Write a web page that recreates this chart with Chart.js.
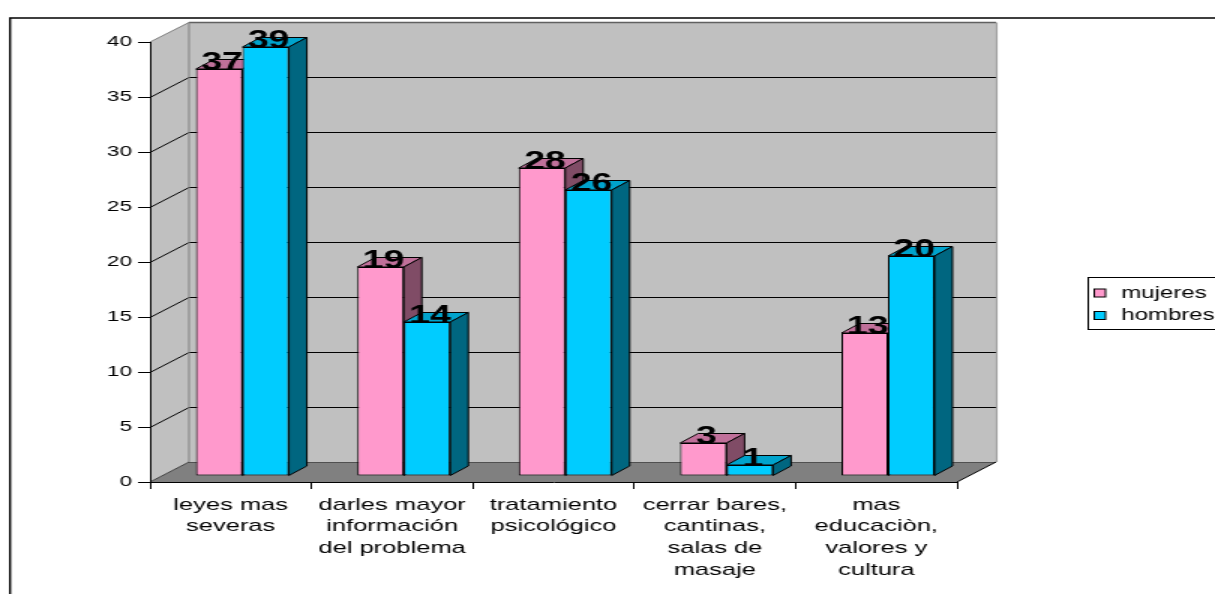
<!DOCTYPE html>
<html>
<head>
<meta charset="utf-8">
<script src="https://cdn.jsdelivr.net/npm/chart.js@4"></script>
<style>
  html, body { margin: 0; padding: 0; background: #fff; overflow: hidden; }
  canvas { display: block; }
</style>
</head>
<body>
<!-- el lienzo se estira 1.5x a lo ancho, como en la imagen original -->
<canvas id="grafico" width="810" height="594" style="width:1215px;height:594px"></canvas>
<script>
// Datos
const categorias = [
  ["leyes mas", "severas"],
  ["darles mayor", "información", "del problema"],
  ["tratamiento", "psicológico"],
  ["cerrar bares,", "cantinas,", "salas de", "masaje"],
  ["mas", "educaciòn,", "valores y", "cultura"]
];
const mujeres = [37, 19, 28, 3, 13];
const hombres = [39, 14, 26, 1, 20];
const ejeMin = 0;
const ejeMax = 40;
const ejePaso = 5;

const FUENTE = "'Liberation Sans', Arial, sans-serif";

// colores de las caras: frente, arriba, lado
const caras = [
  { frente: "#ff99cc", arriba: "#c0709a", lado: "#804c66" },
  { frente: "#00ccff", arriba: "#00a3cc", lado: "#006680" }
];

// desplazamientos de la perspectiva (px del lienzo)
const PARED = { dx: 26, dy: -20 };
const PLANO = { dx: 7.8, dy: -6 };
const FONDO = { dx: 12, dy: -9.5 };

function poligono(ctx, pts, relleno, trazo, ancho) {
  ctx.beginPath();
  ctx.moveTo(pts[0][0], pts[0][1]);
  for (let i = 1; i < pts.length; i++) ctx.lineTo(pts[i][0], pts[i][1]);
  ctx.closePath();
  if (relleno) {
    ctx.fillStyle = relleno;
    ctx.fill();
  }
  if (trazo) {
    ctx.strokeStyle = trazo;
    ctx.lineWidth = ancho || 1;
    ctx.stroke();
  }
}

function linea(ctx, x1, y1, x2, y2, color, ancho) {
  ctx.beginPath();
  ctx.moveTo(x1, y1);
  ctx.lineTo(x2, y2);
  ctx.strokeStyle = color;
  ctx.lineWidth = ancho || 1;
  ctx.stroke();
}

/**
 * Paredes, piso y marco del gráfico 3D
 */
const paredes = {
  id: "paredes",
  beforeDraw(chart) {
    const ctx = chart.ctx;
    const xs = chart.scales.x;
    const ys = chart.scales.y;
    const x0 = xs.left;
    const x1 = xs.right;
    const y0 = ys.getPixelForValue(ejeMin);
    const yt = ys.getPixelForValue(ejeMax);
    const dx = PARED.dx;
    const dy = PARED.dy;

    ctx.save();

    // marco exterior
    ctx.strokeStyle = "#000";
    ctx.lineWidth = 1.4;
    ctx.beginPath();
    ctx.moveTo(6.7, chart.height + 2);
    ctx.lineTo(6.7, 18);
    ctx.lineTo(chart.width + 2, 18);
    ctx.stroke();

    // pared lateral y pared del fondo
    poligono(ctx, [[x0, y0], [x0, yt], [x0 + dx, yt + dy], [x0 + dx, y0 + dy]], "#c0c0c0");
    poligono(ctx, [[x0 + dx, yt + dy], [x1 + dx, yt + dy], [x1 + dx, y0 + dy], [x0 + dx, y0 + dy]], "#c0c0c0");
    // piso
    poligono(ctx, [[x0, y0], [x1, y0], [x1 + dx, y0 + dy], [x0 + dx, y0 + dy]], "#808080");

    // líneas de división
    for (let v = ejeMin + ejePaso; v < ejeMax; v += ejePaso) {
      const y = Math.round(ys.getPixelForValue(v)) + 0.5;
      linea(ctx, x0, y, x0 + dx, y + dy, "#000", 1);
      linea(ctx, x0 + dx, y + dy, x1 + dx, y + dy, "#000", 1);
    }

    // bordes de las paredes
    const yb = Math.round(yt + dy) + 0.5;
    linea(ctx, x0, yt, x0 + dx, yb, "#808080", 1);
    linea(ctx, x0 + dx, yb, x1 + dx, yb, "#606060", 1.5);
    linea(ctx, x0 + dx, yb, x0 + dx, y0 + dy, "#808080", 1);
    linea(ctx, x1 + dx + 0.5, yb, x1 + dx + 0.5, y0 + dy, "#a0a0a0", 1.2);
    linea(ctx, x0 + dx, Math.round(y0 + dy) + 0.5, x1 + dx, Math.round(y0 + dy) + 0.5, "#505050", 1);
    linea(ctx, x0, y0, x0 + dx, y0 + dy, "#404040", 1);
    linea(ctx, x1, y0, x1 + dx, y0 + dy, "#000", 1);

    ctx.restore();
  }
};

/**
 * Barras con cara superior y lateral, y sus etiquetas
 */
const barras3d = {
  id: "barras3d",
  beforeDatasetsDraw(chart) {
    const ctx = chart.ctx;
    ctx.save();
    ctx.translate(PLANO.dx, PLANO.dy);

    // primero mujeres, luego hombres (para que tapen el lado de las rosas)
    chart.data.datasets.forEach((ds, i) => {
      const meta = chart.getDatasetMeta(i);
      meta.controller.draw();
      meta.data.forEach((el) => {
        const { x, y, base, width } = el.getProps(["x", "y", "base", "width"], true);
        const l = x - width / 2;
        const r = x + width / 2;
        poligono(ctx, [[l, y], [r, y], [r + FONDO.dx, y + FONDO.dy], [l + FONDO.dx, y + FONDO.dy]], caras[i].arriba, "#000", 1);
        poligono(ctx, [[r, y], [r + FONDO.dx, y + FONDO.dy], [r + FONDO.dx, base + FONDO.dy], [r, base]], caras[i].lado, "#000", 1);
      });
    });

    // etiquetas de valores
    ctx.font = "bold 25px " + FUENTE;
    ctx.fillStyle = "#000";
    ctx.textAlign = "center";
    ctx.textBaseline = "alphabetic";
    chart.data.datasets.forEach((ds, i) => {
      chart.getDatasetMeta(i).data.forEach((el, j) => {
        ctx.fillText(String(ds.data[j]), el.x + 2, el.y + 0.5);
      });
    });

    ctx.restore();
    return false;
  }
};

/**
 * Leyenda con recuadro
 */
const leyenda = {
  id: "leyenda",
  afterDraw(chart) {
    const ctx = chart.ctx;
    ctx.save();
    ctx.strokeStyle = "#000";
    ctx.lineWidth = 1;
    ctx.strokeRect(725.5, 277.5, 100, 52);
    ctx.font = "16px " + FUENTE;
    ctx.textBaseline = "alphabetic";
    chart.data.datasets.forEach((ds, i) => {
      const y = 297.5 + i * 22.5;
      ctx.fillStyle = caras[i].frente;
      ctx.fillRect(729.5, y - 8.5, 7.5, 8);
      ctx.strokeRect(729.5, y - 8.5, 7.5, 8);
      ctx.fillStyle = "#000";
      ctx.fillText(ds.label, 747.5, y);
    });
    ctx.restore();
  }
};

new Chart(document.getElementById("grafico"), {
  type: "bar",
  data: {
    labels: categorias,
    datasets: [
      {
        label: "mujeres",
        data: mujeres,
        backgroundColor: caras[0].frente,
        borderColor: "#000",
        borderWidth: 1,
        borderSkipped: false
      },
      {
        label: "hombres",
        data: hombres,
        backgroundColor: caras[1].frente,
        borderColor: "#000",
        borderWidth: 1,
        borderSkipped: false
      }
    ]
  },
  options: {
    responsive: false,
    animation: false,
    devicePixelRatio: 1,
    layout: { padding: { top: 42, right: 172, bottom: 0, left: 0 } },
    datasets: {
      bar: { categoryPercentage: 0.576, barPercentage: 1 }
    },
    scales: {
      x: {
        grid: { drawOnChartArea: false, drawTicks: true, tickLength: 7, color: "#000", offset: true },
        border: { color: "#000", width: 1 },
        ticks: {
          color: "#000",
          font: { family: FUENTE, size: 17, lineHeight: 1.28 },
          padding: 5,
          maxRotation: 0,
          autoSkip: false
        },
        afterFit(scale) {
          scale.height = 112;
        }
      },
      y: {
        min: ejeMin,
        max: ejeMax,
        ticks: { stepSize: ejePaso, color: "#000", font: { family: FUENTE, size: 15 }, padding: 4 },
        grid: { drawOnChartArea: false, tickLength: 8, color: "#000" },
        border: { color: "#000", width: 1 },
        afterFit(scale) {
          scale.width = 100;
        }
      }
    },
    plugins: {
      legend: { display: false },
      title: { display: false },
      tooltip: { enabled: false }
    }
  },
  plugins: [paredes, barras3d, leyenda]
});
</script>
</body>
</html>
